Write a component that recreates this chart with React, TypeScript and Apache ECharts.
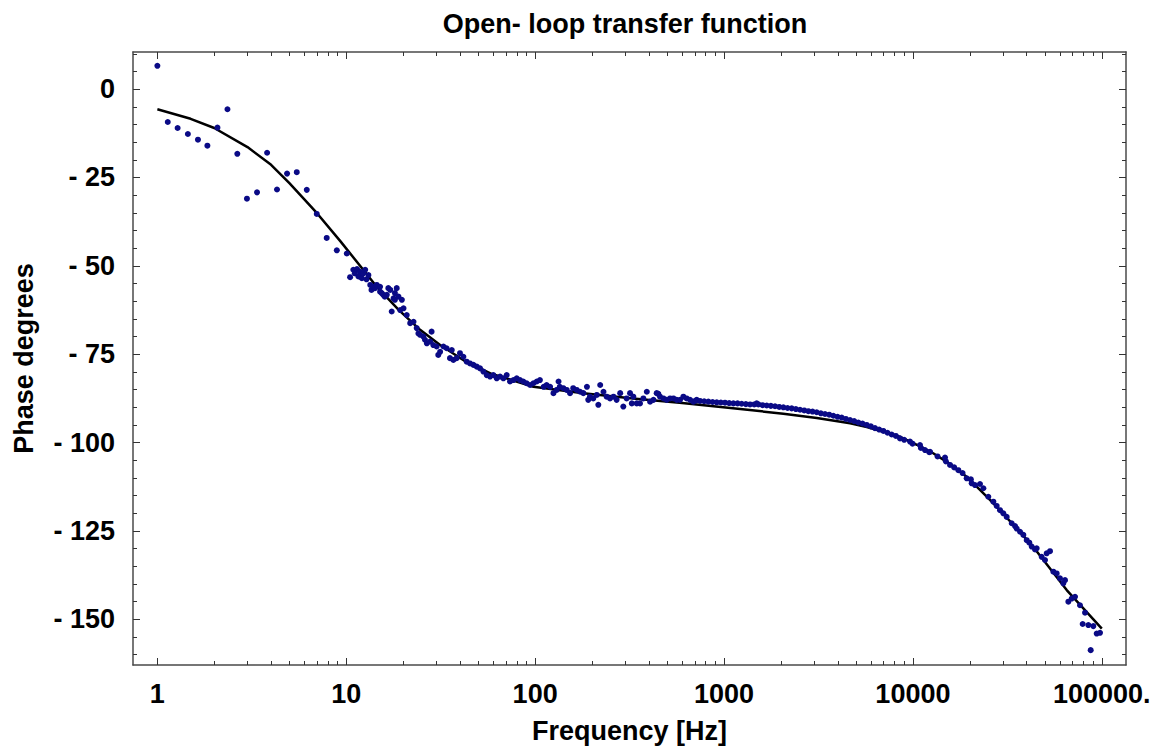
import React, { useEffect, useRef } from "react";
import * as echarts from "echarts";

const TITLE = "Open- loop transfer function";
const X_NAME = "Frequency [Hz]";
const Y_NAME = "Phase degrees";

const X_TICK_VALUES = [1, 10, 100, 1000, 10000, 100000];
const X_TICK_LABELS = ["1", "10", "100", "1000", "10000", "100000."];
const X_MINOR_MULTIPLIERS = [2, 3, 4, 5, 6, 7, 8, 9];
const Y_TICK_VALUES = [0, -25, -50, -75, -100, -125, -150];
const Y_TICK_LABELS = ["0", "- 25", "- 50", "- 75", "- 100", "- 125", "- 150"];
const Y_MINOR_STEP = 5;
const X_RANGE = [0.743, 134300];
const Y_RANGE = [-162.9, 10.5];

// measured points: frequency (Hz) and phase (degrees)
const MEAS_FREQ = [
  1, 1.135, 1.28, 1.45, 1.64, 1.84, 2.08, 2.35, 2.65, 2.98, 3.37, 3.81, 4.3, 4.86, 5.47, 6.18, 6.98, 7.88, 8.91, 10.07,
  10.48, 10.9, 11.1, 11.4, 11.6, 11.8, 11.8, 12.1, 12.3, 12.6, 12.8, 13.1, 13.4, 13.6, 13.9, 14.2, 14.5, 15.1, 15.1, 15.4,
  15.7, 16.0, 16.4, 16.7, 17.1, 17.4, 17.8, 18.1, 18.1, 18.5, 18.9,
  19.3, 19.7, 20.1, 20.9, 21.8, 22.7, 23.6, 24.1, 24.6, 25.6, 26.1, 26.7, 27.8, 28.3, 28.9, 30.1, 30.7, 31.4, 32.7, 34.0,
  35.4, 36.2, 36.9, 38.4, 40.0, 41.7, 43.4, 45.2, 47.1, 49.1, 51.1, 53.2, 55.4, 57.7, 60.1, 62.6, 65.2, 67.9, 70.7, 73.6,
  76.7, 79.9, 83.2, 86.6, 90.2, 94.0, 97.9, 102, 106, 111, 115, 120, 125, 130, 133, 135, 141, 147, 153, 159,
  166, 173, 180, 188, 191, 195, 203, 212, 216, 221, 230, 239, 249, 260, 270, 282, 293, 305, 318, 325,
  331, 345, 359, 374, 390, 406, 423, 440, 449, 458, 478, 497, 518, 540, 562, 585, 609, 634, 661, 688, 717,
  709, 746, 785, 826, 870, 915, 962, 1012, 1065, 1121, 1179, 1240, 1305, 1373, 1445, 1489, 1520, 1600, 1683, 1770,
  1862, 1960, 2062, 2169, 2282, 2401, 2526, 2658, 2796, 2942, 3095, 3256, 3425, 3604, 3792, 3990, 4198, 4416, 4647, 4888,
  5143, 5410, 5692, 5990, 6301, 6630, 6975, 7338, 7722, 8122, 8990, 9952, 11020, 12200, 13500, 14940, 16540, 18310, 20270,
  8545, 9651, 10900, 11590, 12320, 14790, 15720, 17400, 19260, 20470, 21320, 22660, 23600, 25070, 26660, 27760, 28920, 30110, 31360, 33340,
  34720, 35430, 36900, 38430, 40030, 41340, 42540, 44300, 45210, 48040, 50040, 51070, 53190, 55390, 57700, 60070, 62570, 63850, 66510, 69270,
  72140, 76650, 81510, 79200, 84880, 90200, 93950, 97840, 87330,
];
const MEAS_PHASE = [
  6.6, -9.3, -11.0, -12.7, -14.3, -16.0, -10.9, -5.7, -18.3, -31.0, -29.2, -18.0, -28.4, -23.9, -23.5, -28.5, -35.3, -42.1, -45.6, -46.5,
  -53.2, -51.1, -52.1, -50.9, -53.0, -51.6, -53.0, -53.5, -52.1, -51.1, -53.8, -52.6, -55.4, -56.8, -55.9, -56.3, -55.4, -55.9, -57.3, -57.7,
  -58.2, -58.7, -58.2, -56.3, -56.8, -62.9, -59.2, -57.7, -59.6, -56.3, -58.7,
  -62.5, -59.6, -62.0, -63.9, -66.2, -65.8, -67.6, -69.1, -69.5, -70.0, -70.9, -71.9, -71.4, -68.6, -72.4, -72.8, -75.2, -74.3, -72.8, -73.3,
  -76.1, -73.8, -76.6, -76.1, -74.7, -75.7, -77.1, -77.6, -78.0, -78.5, -79.0, -79.9, -80.9, -81.3, -80.9, -81.8, -81.3, -81.8, -80.9, -82.7,
  -82.3, -81.8, -82.3, -82.7, -83.2, -83.7, -83.2, -82.7, -82.3, -84.2, -83.7, -84.2, -86.0, -85.1, -82.7, -84.2, -84.6, -85.1, -86.0, -84.6,
  -85.1, -85.6, -86.0, -84.2, -87.9, -87.0, -87.5, -86.5, -89.3, -83.7, -85.6, -87.0, -87.5, -87.0, -87.9, -86.0, -89.8, -87.5, -86.0, -88.9,
  -87.0, -88.9, -88.9, -87.5, -85.6, -88.4, -87.9, -86.0, -86.2, -87.0, -87.5, -87.9, -87.5, -87.5, -87.9, -87.9, -87.0, -87.5, -87.9, -88.4, -87.9,
  -88.1, -88.2, -88.3, -88.4, -88.5, -88.6, -88.65, -88.7, -88.8, -88.9, -88.9, -89.0, -89.1, -89.2, -89.2, -88.9, -89.2, -89.4, -89.5, -89.6,
  -89.7, -89.9, -90.0, -90.2, -90.3, -90.5, -90.7, -90.9, -91.1, -91.2, -91.4, -91.7, -91.9, -92.1, -92.4, -92.7, -92.9, -93.3, -93.6, -93.9,
  -94.3, -94.6, -95.0, -95.4, -95.9, -96.3, -96.7, -97.2, -97.7, -98.1, -99.2, -100.3, -101.5, -102.7, -103.9, -105.3, -107.0, -108.6, -110.4,
  -98.8, -99.7, -100.7, -102.1, -102.6, -104.2, -106.3, -107.8, -110.1, -111.5, -112.0, -111.7, -112.9, -115.3, -116.7, -117.9, -119.1, -120.0, -121.0, -122.8,
  -123.6, -124.3, -125.2, -126.1, -127.6, -128.3, -129.4, -130.2, -129.9, -132.3, -133.2, -131.3, -130.7, -136.5, -137.0, -138.4, -139.8, -138.9, -145.0, -144.1,
  -143.6, -146.0, -148.1, -151.3, -151.6, -151.9, -154.0, -153.8, -158.7,
];

// fitted model curve
const FIT_FREQ = [1, 1.5, 2, 3, 4, 5, 7, 9.3, 11.8, 14.5, 19, 24.6, 31.4, 43, 58, 98, 180, 330, 600, 1370, 2060, 3100, 4650, 5700, 7000, 8500, 10500, 12800, 16000, 19300, 24600, 29000, 43400, 65200, 100000];
const FIT_PHASE = [-5.7, -8.4, -11.0, -16.4, -21.4, -26.6, -35.1, -43.0, -49.9, -55.9, -62.5, -68.1, -72.4, -77.1, -80.4, -84.2, -86.0, -87.5, -88.8, -90.8, -91.8, -93.0, -94.5, -95.6, -96.9, -98.3, -100.6, -103.0, -106.3, -109.7, -115.3, -119.2, -129.5, -141.7, -152.6];

const FONT = "'Liberation Sans', Arial, Helvetica, sans-serif";
const FRAME = "#4a4a4a";
const TICK = "#333333";

export default function App() {
  const ref = useRef<HTMLDivElement>(null);

  useEffect(() => {
    if (!ref.current) return;
    const chart = echarts.init(ref.current, undefined, { renderer: "svg" });
    const lg = (f: number) => Math.log10(f);
    const xMin = lg(X_RANGE[0]);
    const xMax = lg(X_RANGE[1]);
    const majorX = X_TICK_VALUES.map(lg);
    const minorX: number[] = [];
    X_TICK_VALUES.slice(0, -1).forEach((d) => X_MINOR_MULTIPLIERS.forEach((m) => minorX.push(lg(d * m))));
    const minorY: number[] = [];
    for (let v = Math.ceil(Y_RANGE[0] / Y_MINOR_STEP) * Y_MINOR_STEP; v <= Y_RANGE[1]; v += Y_MINOR_STEP) minorY.push(v);

    const labelStyle = { fontSize: 27, fontWeight: "bold" as const, color: "#000", fontFamily: FONT };

    const xAxis = (position: string, values: number[], len: number, showLabel: boolean, showLine: boolean, withName: boolean) => ({
      type: "value",
      position,
      min: xMin,
      max: xMax,
      name: withName ? X_NAME : "",
      nameLocation: "middle",
      nameGap: 52,
      nameTextStyle: labelStyle,
      axisLine: { show: showLine, onZero: false, lineStyle: { color: FRAME, width: 1.5 } },
      axisTick: { show: true, inside: true, length: len, customValues: values, lineStyle: { color: TICK, width: 1 } },
      axisLabel: {
        show: showLabel,
        customValues: values,
        margin: 15,
        ...labelStyle,
        formatter: (v: number) => {
          const i = majorX.findIndex((m) => Math.abs(m - v) < 1e-6);
          return i >= 0 ? X_TICK_LABELS[i] : "";
        },
      },
      splitLine: { show: false },
    });

    const yAxis = (position: string, values: number[], len: number, showLabel: boolean, showLine: boolean, withName: boolean) => ({
      type: "value",
      position,
      min: Y_RANGE[0],
      max: Y_RANGE[1],
      name: withName ? Y_NAME : "",
      nameLocation: "middle",
      nameGap: 96,
      nameTextStyle: labelStyle,
      axisLine: { show: showLine, onZero: false, lineStyle: { color: FRAME, width: 1.5 } },
      axisTick: { show: true, inside: true, length: len, customValues: values, lineStyle: { color: TICK, width: 1 } },
      axisLabel: {
        show: showLabel,
        customValues: values,
        margin: 18,
        ...labelStyle,
        formatter: (v: number) => {
          const i = Y_TICK_VALUES.findIndex((m) => Math.abs(m - v) < 1e-6);
          return i >= 0 ? Y_TICK_LABELS[i] : "";
        },
      },
      splitLine: { show: false },
    });

    chart.setOption({
      animation: false,
      backgroundColor: "#fff",
      title: {
        text: TITLE,
        left: 620,
        textAlign: "center",
        top: 5,
        textStyle: { fontSize: 27, fontWeight: "bold", color: "#000", fontFamily: FONT },
      },
      grid: { left: 133, right: 34, top: 52, bottom: 84, containLabel: false },
      xAxis: [
        xAxis("bottom", majorX, 7, true, true, true),
        xAxis("bottom", minorX, 4, false, false, false),
        xAxis("top", majorX, 7, false, true, false),
        xAxis("top", minorX, 4, false, false, false),
      ],
      yAxis: [
        yAxis("left", Y_TICK_VALUES, 7, true, true, true),
        yAxis("left", minorY, 4, false, false, false),
        yAxis("right", Y_TICK_VALUES, 7, false, true, false),
        yAxis("right", minorY, 4, false, false, false),
      ],
      series: [
        {
          type: "line",
          xAxisIndex: 0,
          yAxisIndex: 0,
          data: FIT_FREQ.map((f, i) => [lg(f), FIT_PHASE[i]]),
          showSymbol: false,
          smooth: false,
          lineStyle: { color: "#000", width: 2.5 },
          z: 2,
        },
        {
          type: "scatter",
          xAxisIndex: 0,
          yAxisIndex: 0,
          data: MEAS_FREQ.map((f, i) => [lg(f), MEAS_PHASE[i]]),
          symbolSize: 6,
          itemStyle: { color: "#0a0a86", opacity: 1 },
          z: 3,
        },
      ],
    });
    return () => chart.dispose();
  }, []);

  return <div ref={ref} style={{ position: "fixed", left: 0, top: 0, width: 1160, height: 749 }} />;
}
